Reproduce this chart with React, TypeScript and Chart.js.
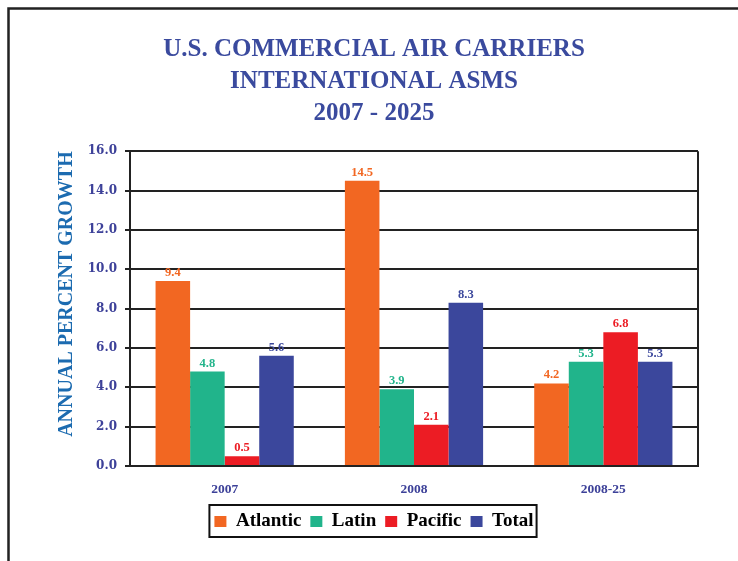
import React, { useEffect, useRef } from "react";
import { Chart, registerables } from "chart.js";

Chart.register(...registerables);

const titleLines = ["U.S. COMMERCIAL AIR CARRIERS", "INTERNATIONAL ASMS", "2007 - 2025"];
const categories = ["2007", "2008", "2008-25"];
const seriesNames = ["Atlantic", "Latin", "Pacific", "Total"];
const atlantic = [9.4, 14.5, 4.2];
const latin = [4.8, 3.9, 5.3];
const pacific = [0.5, 2.1, 6.8];
const total = [5.6, 8.3, 5.3];
const yTicks = [0, 2, 4, 6, 8, 10, 12, 14, 16];
const yAxisTitle = "ANNUAL PERCENT GROWTH";

const colors = ["#f26722", "#21b48b", "#ec1c24", "#3b479c"];
const SERIF = "'Liberation Serif', 'Times New Roman', serif";

const framePlugin = {
  id: "frame",
  beforeDraw(chart: any) {
    const ctx = chart.ctx;
    ctx.save();
    ctx.fillStyle = "#ffffff";
    ctx.fillRect(0, 0, chart.width, chart.height);
    ctx.strokeStyle = "#222222";
    ctx.lineWidth = 2.5;
    ctx.strokeRect(8.5, 8.5, chart.width + 20, chart.height + 20);
    ctx.restore();
  },
  afterDraw(chart: any) {
    const ctx = chart.ctx;
    const a = chart.chartArea;
    ctx.save();
    ctx.strokeStyle = "#222222";
    ctx.lineWidth = 2;
    ctx.beginPath();
    ctx.moveTo(a.right, a.top);
    ctx.lineTo(a.right, a.bottom + 1);
    ctx.stroke();
    // legend border
    const boxes = chart.legend && chart.legend.legendHitBoxes;
    if (boxes && boxes.length) {
      let l = Infinity, r = -Infinity, t = Infinity, b = -Infinity;
      for (const h of boxes) {
        l = Math.min(l, h.left);
        r = Math.max(r, h.left + h.width);
        t = Math.min(t, h.top);
        b = Math.max(b, h.top + h.height);
      }
      ctx.lineWidth = 2;
      ctx.strokeStyle = "#111111";
      ctx.strokeRect(l - 5, t - 7, r - l + 8, b - t + 13);
    }
    ctx.restore();
  },
};

const valueLabelPlugin = {
  id: "valueLabels",
  afterDatasetsDraw(chart: any) {
    const ctx = chart.ctx;
    ctx.save();
    ctx.font = `bold 12.5px ${SERIF}`;
    ctx.textAlign = "center";
    ctx.textBaseline = "alphabetic";
    chart.data.datasets.forEach((ds: any, i: number) => {
      const meta = chart.getDatasetMeta(i);
      ctx.fillStyle = ds.backgroundColor;
      meta.data.forEach((bar: any, j: number) => {
        const v = ds.data[j];
        ctx.fillText(v.toFixed(1), bar.x, bar.y - 5);
      });
    });
    ctx.restore();
  },
};

export default function App() {
  const ref = useRef<HTMLCanvasElement>(null);

  useEffect(() => {
    if (!ref.current) return;
    const seriesData = [atlantic, latin, pacific, total];
    const chart = new Chart(ref.current, {
      type: "bar",
      data: {
        labels: categories,
        datasets: seriesNames.map((name, i) => ({
          label: name,
          data: seriesData[i],
          backgroundColor: colors[i],
          borderWidth: 0,
          barPercentage: 1,
          categoryPercentage: 0.73,
        })),
      },
      options: {
        responsive: false,
        animation: false,
        layout: { padding: { left: 50, right: 40, top: 0, bottom: 20 } },
        plugins: {
          title: {
            display: true,
            text: titleLines,
            color: "#3a4a9e",
            font: { family: SERIF, size: 25, weight: "bold", lineHeight: 1.27 },
            padding: { top: 34, bottom: 22 },
          },
          legend: {
            position: "bottom",
            labels: {
              color: "#000000",
              font: { family: SERIF, size: 19, weight: "bold" },
              boxWidth: 12,
              boxHeight: 11,
              padding: 9,
            },
          },
          tooltip: { enabled: false },
        },
        scales: {
          x: {
            grid: { display: false, drawTicks: false },
            border: { display: true, color: "#222222", width: 2 },
            ticks: {
              color: "#3d4199",
              font: { family: SERIF, size: 13.5, weight: "bold" },
              padding: 15,
            },
            afterFit: (s: any) => {
              s.height = 37;
            },
          },
          y: {
            min: 0,
            max: 16,
            afterBuildTicks: (s: any) => {
              s.ticks = yTicks.map((v) => ({ value: v }));
            },
            grid: { color: "#222222", lineWidth: 2, tickLength: 5 },
            border: { display: true, color: "#222222", width: 2 },
            ticks: {
              color: "#3d4199",
              font: { family: "'DejaVu Serif', serif", size: 12, weight: "bold" },
              padding: 8,
              callback: (v: any) => Number(v).toFixed(1),
            },
            title: {
              display: true,
              text: yAxisTitle,
              align: "end",
              color: "#1c6bb0",
              font: { family: SERIF, size: 20, weight: "bold" },
              padding: { top: 5, bottom: 0 },
            },
            afterFit: (s: any) => {
              s.width = 80;
            },
          },
        },
      },
      plugins: [framePlugin, valueLabelPlugin],
    });
    return () => chart.destroy();
  }, []);

  return (
    <div style={{ position: "absolute", left: 0, top: 0, width: 738, height: 561 }}>
      <canvas ref={ref} width={738} height={561} />
    </div>
  );
}
